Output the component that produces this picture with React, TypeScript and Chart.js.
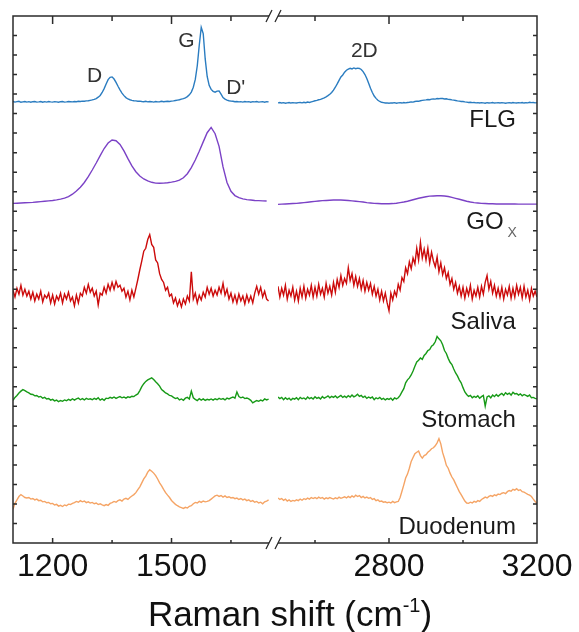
import React, { useEffect, useRef } from 'react';
import { Chart, registerables } from 'chart.js';

Chart.register(...registerables);

const FONT = "'Liberation Sans', Arial, Helvetica, sans-serif";

// ---- axes ----
const LEFT_RANGE = [1100, 1746];
const RIGHT_RANGE = [2500, 3200];
const LEFT_TICKS = [1200, 1350, 1500, 1650];
const RIGHT_TICKS = [2600, 2800, 3000, 3200];
const LEFT_LABELS = [1200, 1500];
const RIGHT_LABELS = [2800, 3200];
const Y_MIN = 0;
const Y_MAX = 27;
const Y_STEP = 1;

// ---- series ----
const SERIES_NAMES = ['FLG', 'GOx', 'Saliva', 'Stomach', 'Duodenum'];
const SERIES_COLORS = ['#2a7cc0', '#7b42c6', '#cc0b0b', '#179a17', '#f5a465'];
const SERIES_OFFSETS = [22.6, 17.47, 12.6, 7.36, 2.03];
const SERIES_STEPS = [5, 10, 5, 5, 5];

const FLG_LEFT = [
  0.02, -0.01, 0.01, 0.03, -0.02, 0.0, 0.02, -0.01, 0.01, -0.02,
  0.01, 0.02, -0.01, 0.0, 0.02, -0.02, 0.01, -0.01, 0.02, 0.0,
  -0.01, 0.01, 0.0, -0.02, 0.01, 0.02, -0.01, 0.0, 0.02, 0.01,
  0.0, 0.02, 0.01, 0.03, 0.02, 0.04, 0.03, 0.05, 0.06, 0.08,
  0.1, 0.13, 0.17, 0.24, 0.33, 0.48, 0.68, 0.92, 1.14, 1.26,
  1.28, 1.17, 1.0, 0.8, 0.62, 0.45, 0.32, 0.22, 0.15, 0.11,
  0.08, 0.06, 0.05, 0.03, 0.04, 0.02, 0.01, 0.03, 0.0, 0.02,
  0.01, -0.01, 0.02, 0.0, 0.01, 0.03, 0.01, 0.02, 0.03, 0.02,
  0.04, 0.05, 0.07, 0.09, 0.11, 0.14, 0.17, 0.21, 0.27, 0.36,
  0.5, 0.75, 1.15, 1.85, 2.9, 3.82, 3.5, 2.2, 1.3, 0.85,
  0.64, 0.54, 0.5, 0.55, 0.56, 0.4, 0.22, 0.14, 0.09, 0.06,
  0.04, 0.03, 0.01, 0.02, 0.0, 0.01, -0.01, 0.02, 0.0, 0.01,
  -0.02, 0.01, 0.0, 0.02, -0.01, 0.0, 0.01, -0.02, 0.01, 0.0,
];
const FLG_RIGHT = [
  -0.05, -0.03, -0.06, -0.04, -0.07, -0.05, -0.03, -0.06, -0.04, -0.05,
  -0.06, -0.04, -0.03, -0.05, -0.02, -0.04, -0.01, -0.03, 0.0, 0.03,
  0.06, 0.08, 0.11, 0.13, 0.17, 0.21, 0.26, 0.32, 0.39, 0.48,
  0.6, 0.75, 0.92, 1.1, 1.28, 1.38, 1.52, 1.62, 1.68, 1.72,
  1.69, 1.74, 1.7, 1.73, 1.71, 1.66, 1.55, 1.4, 1.2, 0.95,
  0.7, 0.48, 0.3, 0.18, 0.08, 0.02, -0.02, -0.04, -0.06, -0.05,
  -0.07, -0.05, -0.06, -0.04, -0.07, -0.05, -0.04, -0.06, -0.03, -0.05,
  -0.03, -0.02, 0.0, -0.01, 0.02, 0.04, 0.03, 0.06, 0.08, 0.09,
  0.1, 0.12, 0.11, 0.14, 0.15, 0.14, 0.17, 0.16, 0.18, 0.17,
  0.15, 0.16, 0.13, 0.12, 0.1, 0.09, 0.07, 0.05, 0.04, 0.02,
  0.02, 0.0, -0.01, -0.03, -0.02, -0.04, -0.03, -0.05, -0.04, -0.06,
  -0.04, -0.05, -0.07, -0.04, -0.06, -0.05, -0.03, -0.06, -0.05, -0.04,
  -0.06, -0.04, -0.05, -0.07, -0.05, -0.04, -0.06, -0.03, -0.05, -0.06,
  -0.04, -0.05, -0.03, -0.06, -0.04, -0.05, -0.02, -0.04, -0.03, -0.05,
  -0.04,
];
const GO_LEFT = [
  -0.07, -0.06, -0.05, -0.04, -0.03, -0.02, 0.0, 0.02, 0.04, 0.06,
  0.08, 0.11, 0.15, 0.2, 0.28, 0.4, 0.56, 0.76, 1.0, 1.3,
  1.64, 2.0, 2.38, 2.74, 3.02, 3.18, 3.14, 2.95, 2.62, 2.22,
  1.85, 1.55, 1.33, 1.18, 1.08, 1.01, 0.97, 0.96, 0.97, 0.99,
  1.02, 1.06, 1.12, 1.24, 1.45, 1.76, 2.15, 2.6, 3.08, 3.55,
  3.82, 3.5, 2.85, 1.8, 1.0, 0.55, 0.33, 0.22, 0.16, 0.12,
  0.1, 0.08, 0.07, 0.06, 0.05,
];
const GO_RIGHT = [
  -0.12, -0.11, -0.1, -0.09, -0.08, -0.07, -0.05, -0.03, -0.01, 0.01,
  0.03, 0.05, 0.07, 0.08, 0.09, 0.1, 0.1, 0.1, 0.09, 0.08,
  0.06, 0.04, 0.02, 0.0, -0.03, -0.05, -0.07, -0.08, -0.09, -0.09,
  -0.09, -0.08, -0.06, -0.03, 0.0, 0.04, 0.09, 0.14, 0.19, 0.23,
  0.27, 0.3, 0.31, 0.32, 0.32, 0.31, 0.28, 0.24, 0.19, 0.14,
  0.09, 0.04, 0.0, -0.03, -0.05, -0.07, -0.08, -0.09, -0.09, -0.1,
  -0.1, -0.1, -0.1, -0.1, -0.1, -0.11, -0.11, -0.11, -0.11, -0.11,
  -0.11,
];
const SALIVA_LEFT = [
  0.35, 0.0, 0.45, 0.15, 0.6, 0.1, 0.4, 0.05, 0.3, -0.1,
  0.25, -0.2, 0.15, -0.1, 0.3, -0.25, 0.1, -0.05, 0.2, -0.3,
  0.1, -0.35, 0.05, -0.15, 0.2, -0.3, 0.15, -0.1, 0.25, -0.2,
  0.0, -0.45, 0.1, -0.3, 0.2, 0.05, 0.5, 0.2, 0.65, 0.25,
  0.45, 0.05, 0.3, -0.4, 0.2, 0.1, 0.5, 0.2, 0.65, 0.35,
  0.75, 0.4, 0.8, 0.5, 0.6, 0.3, 0.45, 0.0, 0.3, -0.15,
  0.35, 0.0, 0.45, 0.9, 1.4, 1.85, 2.35, 2.5, 2.95, 3.2,
  2.7, 2.55, 1.9, 1.75, 1.2, 0.9, 0.75, 0.35, 0.5, 0.05,
  0.15, -0.3, -0.05, -0.45, -0.15, -0.5, -0.1, -0.35, 0.05, -0.2,
  1.3, -0.1, 0.2, -0.3, 0.1, -0.15, 0.25, 0.0, 0.5, 0.15,
  0.45, 0.05, 0.35, 0.1, 0.5, 0.2, 0.7, 0.1, 0.4, -0.1,
  0.2, -0.25, 0.1, -0.3, 0.15, -0.2, 0.05, -0.35, 0.1, -0.25,
  0.05, -0.3, 0.2, 0.55, 0.15, 0.5, 0.0, 0.3, -0.1, -0.2,
];
const SALIVA_RIGHT = [
  0.55, 0.0, 0.45, 0.1, 0.6, -0.1, 0.35, 0.05, 0.5, -0.15,
  0.3, -0.2, 0.45, 0.0, 0.55, -0.05, 0.4, 0.1, 0.6, 0.0,
  0.5, 0.05, 0.65, 0.15, 0.45, 0.0, 0.7, 0.2, 0.55, 0.1,
  0.75, 0.25, 0.9, 0.5, 1.1, 0.6, 0.95, 0.7, 1.5, 0.85,
  1.2, 0.6, 1.05, 0.55, 0.95, 0.4, 0.85, 0.3, 0.75, 0.35,
  0.7, 0.15, 0.55, 0.05, 0.4, -0.15, 0.3, -0.2, 0.2, -0.3,
  -0.7, 0.2, -0.15, 0.3, 0.05, 0.65, 0.35, 1.0, 0.8, 1.5,
  1.2, 1.8, 1.45, 2.0, 1.7, 2.5, 1.9, 2.8, 2.0, 2.45,
  1.9, 2.5, 1.75, 2.3, 1.85, 1.55, 2.05, 1.3, 1.75, 1.15,
  1.5, 0.95, 1.25, 0.65, 0.95, 0.4, 0.75, 0.2, 0.55, 0.05,
  0.5, -0.05, 0.45, 0.1, 0.6, -0.1, 0.35, 0.05, 0.5, 0.0,
  0.55, 0.15, 0.75, 1.1, 0.4, 0.8, 0.2, 0.6, 0.05, 0.45,
  0.0, 0.5, -0.1, 0.4, 0.1, 0.55, -0.05, 0.45, 0.0, 0.6,
  0.15, 0.5, -0.05, 0.55, 0.0, 0.35, -0.15, 0.45, 0.05, 0.3,
  0.0,
];
const STOMACH_LEFT = [
  -0.05, 0.1, 0.2, 0.32, 0.42, 0.5, 0.45, 0.38, 0.33, 0.26,
  0.25, 0.18, 0.2, 0.12, 0.15, 0.06, 0.1, 0.02, 0.04, -0.04,
  0.0, -0.08, -0.04, -0.12, -0.06, -0.1, -0.03, -0.07, 0.0, -0.05,
  0.03, -0.04, 0.02, 0.06, -0.02, 0.04, -0.03, 0.05, 0.0, 0.03,
  -0.02, 0.05, 0.0, 0.08, -0.04, 0.02, -0.05, 0.06, 0.04, 0.1,
  0.06, 0.12, 0.05, 0.1, 0.14, 0.08, 0.12, 0.06, 0.13, 0.1,
  0.16, 0.14, 0.22, 0.28, 0.45, 0.65, 0.8, 0.92, 1.0, 1.05,
  1.1, 1.02, 0.9, 0.8, 0.68, 0.5, 0.42, 0.33, 0.28, 0.2,
  0.18, 0.1, 0.04, 0.08, -0.03, 0.02, -0.05, 0.06, 0.1, 0.02,
  0.42, 0.08, 0.0, -0.06, 0.03, -0.04, 0.02, -0.05, 0.0, -0.03,
  0.02, -0.04, 0.03, -0.02, 0.05, 0.0, 0.04, -0.03, 0.06, 0.02,
  0.08, 0.12, 0.06, 0.38, 0.14, 0.08, 0.12, 0.04, 0.07, 0.02,
  -0.05, -0.18, -0.12, -0.06, -0.1, -0.04, -0.08, 0.02, -0.03, 0.01,
];
const STOMACH_RIGHT = [
  0.12, 0.04, 0.1, -0.02, 0.08, 0.0, 0.06, -0.04, 0.05, 0.01,
  0.08, -0.02, 0.1, 0.03, 0.07, 0.0, 0.12, 0.04, 0.09, 0.02,
  0.13, 0.05, 0.1, 0.02, 0.14, 0.06, 0.11, 0.18, 0.08, 0.15,
  0.1, 0.17, 0.08, 0.14, 0.2, 0.1, 0.16, 0.09, 0.19, 0.12,
  0.22, 0.13, 0.18, 0.26, 0.15, 0.2, 0.1, 0.16, 0.05, 0.12,
  0.06, 0.12, -0.02, 0.08, 0.03, 0.1, 0.0, 0.05, -0.03, 0.04,
  0.0, 0.06, -0.04, 0.07, 0.02, 0.08, 0.2, 0.38, 0.55, 0.85,
  1.0, 1.1, 1.25, 1.45, 1.7, 1.92, 2.0, 2.12, 2.05, 2.25,
  2.35, 2.5, 2.55, 2.72, 2.8, 2.95, 3.22, 3.1, 3.0, 2.8,
  2.5, 2.35, 2.1, 1.9, 1.78, 1.55, 1.35, 1.2, 1.0, 0.85,
  0.6, 0.38, 0.25, 0.15, 0.2, 0.08, 0.15, 0.1, 0.18, 0.06,
  0.14, 0.2, -0.35, 0.12, 0.18, 0.08, 0.22, 0.14, 0.25, 0.16,
  0.24, 0.3, 0.2, 0.34, 0.26, 0.32, 0.22, 0.36, 0.28, 0.3,
  0.22, 0.28, 0.18, 0.25, 0.2, 0.15, 0.22, 0.08, 0.1, 0.05,
  0.02,
];
const DUODENUM_LEFT = [
  -0.3, 0.0, 0.18, 0.35, 0.45, 0.38, 0.3, 0.28, 0.3, 0.22,
  0.25, 0.18, 0.22, 0.14, 0.16, 0.08, 0.1, 0.03, 0.05, -0.02,
  0.0, -0.08, -0.05, -0.14, -0.1, -0.16, -0.08, -0.12, -0.04, -0.06,
  0.0, 0.04, 0.1, 0.06, 0.14, 0.08, 0.12, 0.04, 0.08, 0.02,
  0.05, -0.02, 0.02, -0.06, -0.02, -0.08, -0.12, -0.06, -0.1, 0.0,
  0.04, 0.1, 0.06, 0.14, 0.18, 0.12, 0.22, 0.26, 0.2, 0.3,
  0.38, 0.45, 0.55, 0.7, 0.85, 1.05, 1.25, 1.4, 1.6, 1.72,
  1.65, 1.55, 1.42, 1.25, 1.05, 0.9, 0.72, 0.55, 0.42, 0.3,
  0.15, 0.05, -0.05, -0.12, -0.18, -0.22, -0.26, -0.2, -0.24, -0.15,
  -0.12, -0.02, 0.05, 0.02, 0.1, 0.05, 0.12, 0.08, 0.1, 0.14,
  0.22, 0.3, 0.38, 0.42, 0.36, 0.4, 0.32, 0.38, 0.3, 0.34,
  0.28, 0.3, 0.24, 0.27, 0.2, 0.25, 0.18, 0.22, 0.14, 0.18,
  0.1, 0.14, 0.06, 0.1, 0.02, 0.06, -0.02, 0.08, 0.12, 0.18,
];
const DUODENUM_RIGHT = [
  0.28, 0.2, 0.25, 0.16, 0.22, 0.12, 0.18, 0.1, 0.15, 0.12,
  0.18, 0.14, 0.22, 0.16, 0.24, 0.2, 0.27, 0.22, 0.3, 0.25,
  0.3, 0.24, 0.32, 0.26, 0.3, 0.22, 0.28, 0.24, 0.3, 0.26,
  0.22, 0.28, 0.24, 0.32, 0.26, 0.3, 0.34, 0.28, 0.36, 0.3,
  0.38, 0.32, 0.42, 0.35, 0.4, 0.3, 0.36, 0.28, 0.32, 0.26,
  0.3, 0.2, 0.24, 0.14, 0.18, 0.1, 0.12, 0.06, 0.08, 0.03,
  0.06, 0.02, 0.1, 0.04, 0.08, 0.1, 0.3, 0.62, 0.95, 1.3,
  1.5, 1.8, 2.15, 2.35, 2.55, 2.62, 2.68, 2.45, 2.32, 2.45,
  2.5, 2.62, 2.7, 2.8, 2.85, 2.95, 3.1, 3.32, 3.05, 2.6,
  2.3, 1.95, 1.8, 1.55, 1.35, 1.2, 1.0, 0.8, 0.6, 0.45,
  0.28, 0.12, 0.02, 0.0, 0.06, 0.02, 0.1, 0.06, 0.14, 0.1,
  0.2, 0.26, 0.32, 0.28, 0.36, 0.4, 0.36, 0.44, 0.4, 0.48,
  0.45, 0.52, 0.55, 0.5, 0.6, 0.66, 0.62, 0.72, 0.68, 0.75,
  0.66, 0.7, 0.6, 0.58, 0.52, 0.46, 0.42, 0.35, 0.22, 0.1,
  0.0,
];

const LEFT_VALUES = [FLG_LEFT, GO_LEFT, SALIVA_LEFT, STOMACH_LEFT, DUODENUM_LEFT];
const RIGHT_VALUES = [FLG_RIGHT, GO_RIGHT, SALIVA_RIGHT, STOMACH_RIGHT, DUODENUM_RIGHT];

const W = 579;
const H = 632;

function toPoints(start: number, step: number, values: number[], offset: number) {
  return values.map((v, i) => ({ x: start + step * i, y: v + offset }));
}

function framePlugin(side: 'left' | 'right') {
  const ticks = side === 'left' ? LEFT_TICKS : RIGHT_TICKS;
  const labels = side === 'left' ? LEFT_LABELS : RIGHT_LABELS;
  return {
    id: 'frame-' + side,
    afterDraw(chart: any) {
      const { ctx, chartArea: a, scales } = chart;
      const xs = scales.x;
      const ys = scales.y;
      ctx.save();
      ctx.strokeStyle = '#2b2b2b';
      ctx.lineWidth = 1.5;
      ctx.beginPath();
      ctx.moveTo(a.left, a.top);
      ctx.lineTo(a.right, a.top);
      ctx.moveTo(a.left, a.bottom);
      ctx.lineTo(a.right, a.bottom);
      const vx = side === 'left' ? a.left : a.right;
      ctx.moveTo(vx, a.top - 0.75);
      ctx.lineTo(vx, a.bottom + 0.75);
      for (const t of ticks) {
        const px = xs.getPixelForValue(t);
        const major = labels.includes(t);
        ctx.moveTo(px, a.top);
        ctx.lineTo(px, a.top + (major ? 8 : 5));
        ctx.moveTo(px, a.bottom);
        ctx.lineTo(px, a.bottom - (major ? 5 : 3));
      }
      const dir = side === 'left' ? 1 : -1;
      for (let v = Y_MIN + Y_STEP; v < Y_MAX; v += Y_STEP) {
        const py = ys.getPixelForValue(v);
        ctx.moveTo(vx, py);
        ctx.lineTo(vx + dir * 4, py);
      }
      ctx.stroke();
      // axis break marks
      const bx = side === 'left' ? a.right : a.left;
      ctx.lineWidth = 1.3;
      ctx.beginPath();
      for (const by of [a.top, a.bottom]) {
        ctx.moveTo(bx - 3, by + 6);
        ctx.lineTo(bx + 3, by - 6);
      }
      ctx.stroke();
      ctx.restore();
    },
  };
}

function textPlugin(side: 'left' | 'right') {
  return {
    id: 'text-' + side,
    afterDraw(chart: any) {
      const { ctx, scales } = chart;
      const xs = scales.x;
      const ys = scales.y;
      const P = (x: number, y: number) => [xs.getPixelForValue(x), ys.getPixelForValue(y)];
      ctx.save();
      ctx.textBaseline = 'alphabetic';
      if (side === 'left') {
        ctx.fillStyle = '#333';
        ctx.font = `21px ${FONT}`;
        ctx.textAlign = 'left';
        let [x, y] = P(1287, 23.62);
        ctx.fillText('D', x, y);
        [x, y] = P(1517, 25.41);
        ctx.fillText('G', x, y);
        [x, y] = P(1638, 23.0);
        ctx.fillText("D'", x, y);
      } else {
        ctx.fillStyle = '#333';
        ctx.font = `21px ${FONT}`;
        ctx.textAlign = 'left';
        let [x, y] = P(2697, 24.9);
        ctx.fillText('2D', x, y);
        ctx.fillStyle = '#1a1a1a';
        ctx.font = `24px ${FONT}`;
        ctx.textAlign = 'right';
        const rx = xs.getPixelForValue(3143);
        const baselines = [21.31, 16.09, 10.96, 5.94, 0.46];
        SERIES_NAMES.forEach((name, i) => {
          const by = ys.getPixelForValue(baselines[i]);
          if (name === 'GOx') {
            ctx.font = `14px ${FONT}`;
            ctx.fillStyle = '#666';
            ctx.textAlign = 'right';
            ctx.fillText('X', rx + 1, by + 8);
            const wX = ctx.measureText('X').width;
            ctx.font = `24px ${FONT}`;
            ctx.fillStyle = '#1a1a1a';
            ctx.fillText('GO', rx - wX - 3, by);
          } else {
            ctx.fillText(name, rx, by);
          }
        });
      }
      ctx.restore();
    },
  };
}

function makeConfig(side: 'left' | 'right') {
  const isLeft = side === 'left';
  const range = isLeft ? LEFT_RANGE : RIGHT_RANGE;
  const values = isLeft ? LEFT_VALUES : RIGHT_VALUES;
  const ticks = isLeft ? LEFT_TICKS : RIGHT_TICKS;
  const labels = isLeft ? LEFT_LABELS : RIGHT_LABELS;
  return {
    type: 'line' as const,
    data: {
      datasets: SERIES_NAMES.map((name, i) => ({
        label: name,
        data: toPoints(range[0], SERIES_STEPS[i], values[i], SERIES_OFFSETS[i]),
        borderColor: SERIES_COLORS[i],
        backgroundColor: SERIES_COLORS[i],
        borderWidth: 1.4,
        pointRadius: 0,
        tension: 0,
        fill: false,
      })),
    },
    options: {
      animation: false as const,
      responsive: false,
      maintainAspectRatio: false,
      devicePixelRatio: 1,
      parsing: false as const,
      layout: {
        padding: isLeft
          ? { left: 13, right: W - 269, top: 16, bottom: 0 }
          : { left: 278, right: W - 537, top: 16, bottom: 0 },
      },
      plugins: {
        legend: { display: false },
        tooltip: { enabled: false },
      },
      scales: {
        x: {
          type: 'linear' as const,
          min: range[0],
          max: range[1],
          grid: { display: false, drawTicks: false },
          border: { display: false },
          afterBuildTicks: (s: any) => {
            s.ticks = ticks.map((v) => ({ value: v }));
          },
          afterFit: (s: any) => {
            s.height = H - 543;
          },
          ticks: {
            autoSkip: false,
            maxRotation: 0,
            padding: 5,
            color: '#111',
            font: { size: 32, family: FONT },
            callback: (v: any) => (labels.includes(Number(v)) ? String(v) : ''),
          },
        },
        y: {
          type: 'linear' as const,
          min: Y_MIN,
          max: Y_MAX,
          display: false,
        },
      },
    },
    plugins: [framePlugin(side), textPlugin(side)],
  };
}

export default function App() {
  const leftRef = useRef<HTMLCanvasElement>(null);
  const rightRef = useRef<HTMLCanvasElement>(null);

  useEffect(() => {
    Chart.defaults.font.family = FONT;
    const c1 = new Chart(leftRef.current as HTMLCanvasElement, makeConfig('left') as any);
    const c2 = new Chart(rightRef.current as HTMLCanvasElement, makeConfig('right') as any);
    return () => {
      c1.destroy();
      c2.destroy();
    };
  }, []);

  const canvasStyle: React.CSSProperties = { position: 'absolute', left: 0, top: 0, width: W, height: H };

  return (
    <div style={{ position: 'absolute', left: 0, top: 0, width: W, height: H, background: '#fff' }}>
      <canvas ref={leftRef} width={W} height={H} style={canvasStyle} />
      <canvas ref={rightRef} width={W} height={H} style={canvasStyle} />
      <div
        style={{
          position: 'absolute',
          left: 0,
          width: 580,
          top: 596,
          textAlign: 'center',
          fontFamily: FONT,
          fontSize: 35,
          lineHeight: '35px',
          color: '#111',
          whiteSpace: 'nowrap',
        }}
      >
        Raman shift (cm
        <span style={{ fontSize: 20, position: 'relative', top: -14 }}>-1</span>)
      </div>
    </div>
  );
}
